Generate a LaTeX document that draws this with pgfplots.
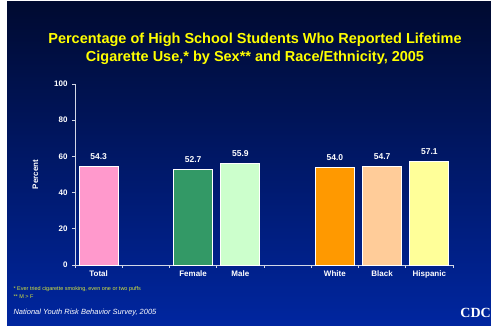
\documentclass[border=0pt]{standalone}
\usepackage{fontspec}
\setmainfont{Liberation Sans}
\usepackage{pgfplots}
\pgfplotsset{compat=1.18}
\definecolor{bgtop}{RGB}{0,10,48}
\definecolor{bgbot}{RGB}{0,38,160}
\definecolor{titley}{RGB}{255,255,0}
\definecolor{footy}{RGB}{215,230,60}
\definecolor{axcol}{RGB}{210,215,230}
\definecolor{cpink}{RGB}{255,153,204}
\definecolor{cgreen}{RGB}{51,153,102}
\definecolor{clgreen}{RGB}{204,255,204}
\definecolor{corange}{RGB}{255,153,0}
\definecolor{cpeach}{RGB}{255,204,153}
\definecolor{cyellow}{RGB}{255,255,153}
\begin{document}
\begin{tikzpicture}[x=1pt,y=1pt]
\shade[top color=bgtop, bottom color=bgbot] (7,0) rectangle (491,325);
\fill[white] (0,0) rectangle (7,326);
\fill[white] (7,325) rectangle (491,326);
\node[text=titley, font=\bfseries\fontsize{14.5}{18}\selectfont, align=center] at (255,277) {Percentage of High School Students Who Reported Lifetime\\Cigarette Use,* by Sex** and Race/Ethnicity, 2005};
\begin{axis}[
  at={(75pt,61pt)}, anchor=south west,
  scale only axis, width=378pt, height=181pt,
  xmin=-0.5, xmax=7.5, ymin=0, ymax=100,
  axis lines*=left,
  axis line style={axcol, line width=0.8pt},
  tick style={axcol, line width=0.8pt},
  tick align=outside,
  major tick length=3pt,
  ytick={0,20,...,100},
  xtick={-0.5,0.5,...,7.5},
  xticklabels={},
  extra x ticks={0,2,3,5,6,7},
  extra x tick labels={Total,Female,Male,White,Black,Hispanic},
  extra x tick style={major tick length=0pt, grid=none, xticklabel style={yshift=-2pt}},
  /pgf/number format/assume math mode=true,
  ticklabel style={text=white, font=\bfseries\fontsize{8}{9}\selectfont},
  yticklabel style={xshift=-1pt},
  ylabel={Percent},
  ylabel style={text=white, font=\bfseries\fontsize{8}{9}\selectfont, yshift=9pt},
  nodes near coords,
  every node near coord/.append style={text=white, yshift=3pt, font=\bfseries\fontsize{8.5}{10}\selectfont, /pgf/number format/.cd, fixed, fixed zerofill, precision=1, assume math mode=true},
  clip=false,
]
\addplot[ybar, bar width=39pt, bar shift=0pt, fill=cpink, draw=white, line width=0.8pt] coordinates {(0,54.3)};
\addplot[ybar, bar width=39pt, bar shift=0pt, fill=cgreen, draw=white, line width=0.8pt] coordinates {(2,52.7)};
\addplot[ybar, bar width=39pt, bar shift=0pt, fill=clgreen, draw=white, line width=0.8pt] coordinates {(3,55.9)};
\addplot[ybar, bar width=39pt, bar shift=0pt, fill=corange, draw=white, line width=0.8pt] coordinates {(5,54.0)};
\addplot[ybar, bar width=39pt, bar shift=0pt, fill=cpeach, draw=white, line width=0.8pt] coordinates {(6,54.7)};
\addplot[ybar, bar width=39pt, bar shift=0pt, fill=cyellow, draw=white, line width=0.8pt] coordinates {(7,57.1)};
\end{axis}
\node[anchor=west, text=footy, font=\fontsize{5.5}{6}\selectfont] at (10,37) {* Ever tried cigarette smoking, even one or two puffs};
\node[anchor=west, text=footy, font=\fontsize{5.5}{6}\selectfont] at (10,29) {** M > F};
\node[anchor=west, text=white, font=\itshape\fontsize{7.5}{9}\selectfont] at (10,13) {National Youth Risk Behavior Survey, 2005};
\node[anchor=east, text=white, font=\bfseries\fontsize{14}{16}\selectfont, inner sep=0pt] at (491,13) {\fontspec{Liberation Serif}CDC};
\end{tikzpicture}
\end{document}
